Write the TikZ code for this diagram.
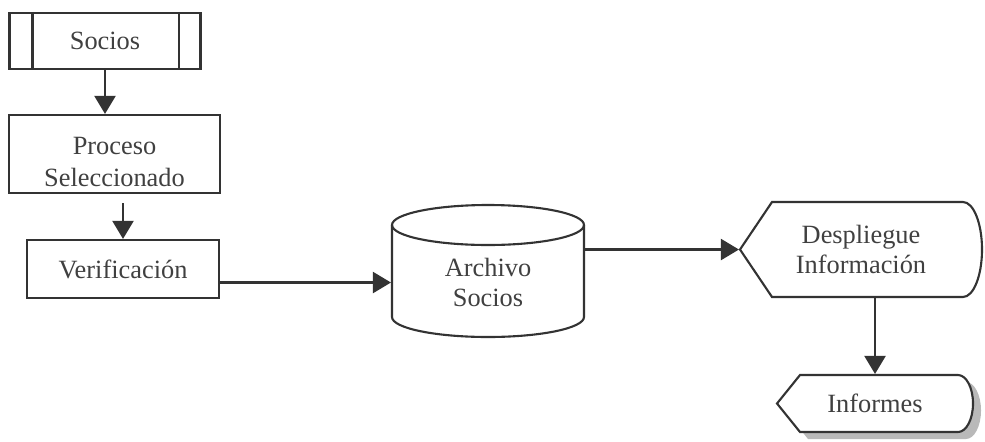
\documentclass[tikz,border=0pt]{standalone}
\usepackage{fontspec}
\setmainfont{Liberation Serif}
\usepackage{xcolor}
\usetikzlibrary{arrows.meta}

\begin{document}
\begin{tikzpicture}[>={Triangle[length=0.36cm,width=0.42cm]},
  line width=1.2pt, draw=black!80,
  every node/.style={text=black!75, font=\fontsize{15}{17}\selectfont, align=center},
  box/.style={draw=black!80, rectangle, inner sep=0pt},
  flow/.style={->, draw=black!80, line width=1.2pt}]
  \useasboundingbox (0,0) rectangle (19.7,8.82);

  % Socios (predefined process)
  \node[box, minimum width=3.82cm, minimum height=1.12cm] (socios) at (2.1,8.0) {Socios};
  \draw ([xshift=0.48cm]socios.north west) -- ([xshift=0.48cm]socios.south west);
  \draw ([xshift=-0.46cm]socios.north east) -- ([xshift=-0.46cm]socios.south east);

  % Proceso and Verificacion
  \node[box, minimum width=4.22cm, minimum height=1.56cm] (proceso) at (2.29,5.74) {\rule{0pt}{19pt}Proceso\\[1.5pt]Seleccionado};
  \node[box, minimum width=3.84cm, minimum height=1.16cm] (verif) at (2.46,3.44) {Verificación};

  % Archivo Socios as a cylinder
  \node[minimum width=3.84cm, minimum height=1.6cm, inner sep=0pt] (archivo) at (9.76,3.17) {Archivo\\Socios};
  \draw (7.84,4.32) -- (7.84,2.48) arc[start angle=180, end angle=360, x radius=1.92, y radius=0.4]
        -- (11.68,4.32);
  \draw (9.76,4.32) ellipse[x radius=1.92, y radius=0.4];

  % Despliegue (display shape)
  \node[minimum width=4.84cm, minimum height=1.9cm, inner sep=0pt] (despliegue) at (17.22,3.83) {Despliegue\\Información};
  \draw (14.8,3.83) -- (15.44,4.78) -- (19.26,4.78)
        arc[start angle=90, end angle=-90, x radius=0.38, y radius=0.95]
        -- (15.44,2.88) -- cycle;

  % Informes with its shadow
  \fill[gray!55, shift={(0.16,-0.14)}] (15.54,0.75) -- (16.0,1.32) -- (19.16,1.32)
        arc[start angle=90, end angle=-90, x radius=0.3, y radius=0.57]
        -- (16.0,0.18) -- cycle;
  \filldraw[fill=white] (15.54,0.75) -- (16.0,1.32) -- (19.16,1.32)
        arc[start angle=90, end angle=-90, x radius=0.3, y radius=0.57]
        -- (16.0,0.18) -- cycle;
  \node[minimum width=3.92cm, minimum height=1.14cm, inner sep=0pt] (informes) at (17.5,0.75) {Informes};

  % Connectors
  \draw[flow] (socios.south) -- (socios.south |- proceso.north);
  \draw[flow, shorten <=0.18cm] (proceso.south -| verif.north) -- (verif.north);
  \draw[flow] (verif.east |- archivo.west) -- (archivo.west);
  \draw[flow] (archivo.east |- despliegue.west) -- (despliegue.west);
  \draw[flow] (despliegue.south -| informes.north) -- (informes.north);
\end{tikzpicture}
\end{document}
